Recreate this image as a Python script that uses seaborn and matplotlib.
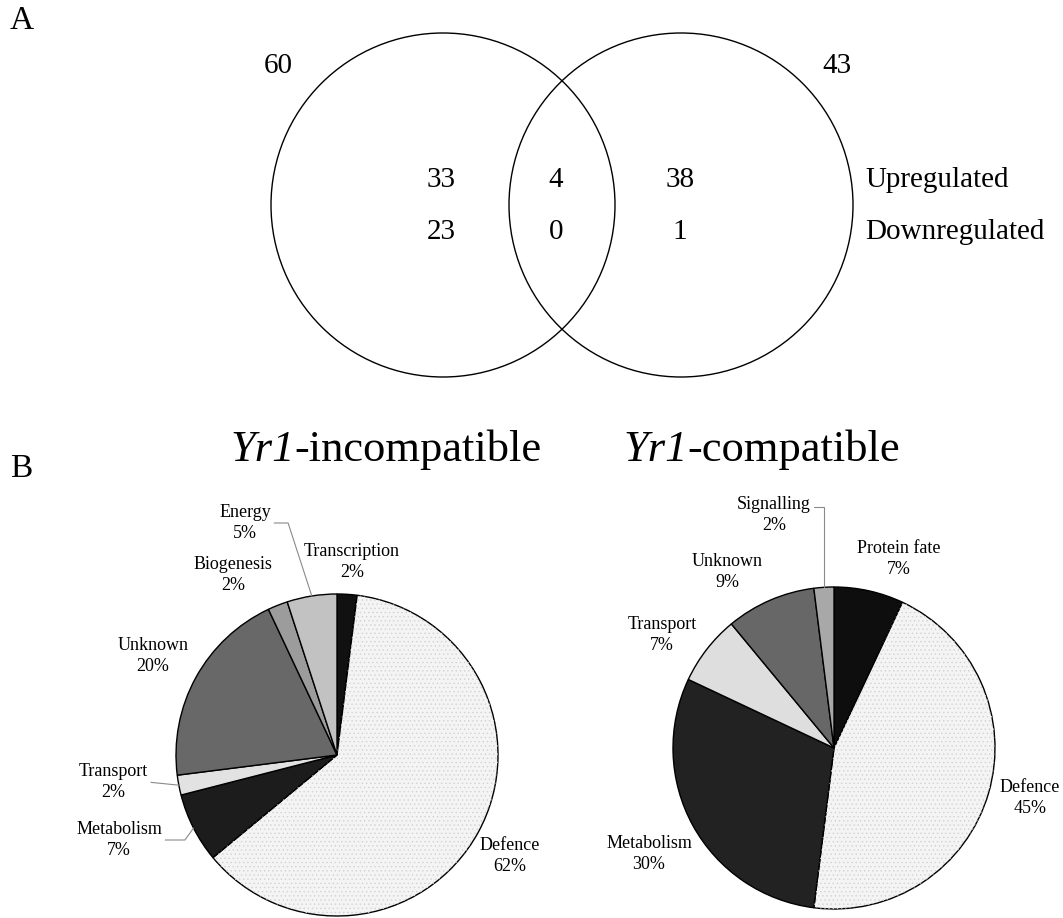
import numpy as np
import seaborn as sns
import matplotlib
matplotlib.use("Agg")
import matplotlib.pyplot as plt
from matplotlib.patches import Circle, Wedge

# data
venn_totals = [60, 43]
venn_up = [33, 4, 38]
venn_down = [23, 0, 1]
row_labels = ["Upregulated", "Downregulated"]

incomp_cats = ["Transcription", "Defence", "Metabolism", "Transport", "Unknown", "Biogenesis", "Energy"]
incomp_pct = [2, 62, 7, 2, 20, 2, 5]
comp_cats = ["Protein fate", "Defence", "Metabolism", "Transport", "Unknown", "Signalling"]
comp_pct = [7, 45, 30, 7, 9, 2]

# styling
sns.set_theme(style="white")
plt.rcParams["font.family"] = ["Liberation Serif", "DejaVu Serif"]
plt.rcParams["text.color"] = "black"
plt.rcParams["hatch.linewidth"] = 0.5

incomp_colors = {"Transcription": "#111111", "Defence": "#f4f4f4", "Metabolism": "#1c1c1c",
                 "Transport": "#e2e2e2", "Unknown": "#686868", "Biogenesis": "#9c9c9c",
                 "Energy": "#c2c2c2"}
comp_colors = {"Protein fate": "#0e0e0e", "Defence": "#f4f4f4", "Metabolism": "#222222",
               "Transport": "#dedede", "Unknown": "#676767", "Signalling": "#a8a8a8"}

# label positions in pie radius units
incomp_pos = {"Transcription": (0.093, 1.199), "Defence": (1.075, -0.627),
              "Metabolism": (-1.354, -0.528), "Transport": (-1.391, -0.168),
              "Unknown": (-1.143, 0.615), "Biogenesis": (-0.646, 1.118),
              "Energy": (-0.571, 1.441)}
comp_pos = {"Protein fate": (0.404, 1.174), "Defence": (1.217, -0.311),
            "Metabolism": (-1.149, -0.658), "Transport": (-1.068, 0.702),
            "Unknown": (-0.665, 1.093), "Signalling": (-0.373, 1.447)}
# leader lines: (relpos, connectionstyle)
incomp_leaders = {"Energy": ((1, 0.5), "angle,angleA=0,angleB=108,rad=0"),
                  "Transport": ((1, 0.5), "arc3"),
                  "Metabolism": ((1, 0.5), "angle,angleA=0,angleB=54,rad=0")}
comp_leaders = {"Signalling": ((1, 0.72), "angle,angleA=0,angleB=90,rad=0")}

W, H = 1063, 918
fig = plt.figure(figsize=(W / 100, H / 100), dpi=100)


def pie_axes(cx, cy, r, half=1.7):
    s = half * r
    ax = fig.add_axes([(cx - s) / W, (H - (cy + s)) / H, 2 * s / W, 2 * s / H])
    ax.set_facecolor("none")
    return ax


def draw_pie(ax, cats, pct, colors, pos, leaders, half=1.7):
    wedges, _ = ax.pie(pct, colors=[colors[c] for c in cats], startangle=90,
                       counterclock=False, radius=1,
                       wedgeprops=dict(edgecolor="black", linewidth=1.0))
    for w, c, p in zip(wedges, cats, pct):
        if c == "Defence":
            # fine stipple like the printed figure
            ax.add_patch(Wedge((0, 0), 1, w.theta1, w.theta2, facecolor="none",
                               edgecolor="#d2d2d2", hatch="....", linewidth=0))
        label = f"{c}\n{p}%"
        if c in leaders:
            mid = np.deg2rad((w.theta1 + w.theta2) / 2)
            relpos, cs = leaders[c]
            ax.annotate(label, xy=(np.cos(mid), np.sin(mid)), xytext=pos[c],
                        ha="center", va="center", fontsize=13, linespacing=1.3,
                        arrowprops=dict(arrowstyle="-", color="#8a8a8a", lw=0.8,
                                        shrinkA=0, shrinkB=0, relpos=relpos,
                                        connectionstyle=cs))
        else:
            ax.text(pos[c][0], pos[c][1], label, ha="center", va="center",
                    fontsize=13, linespacing=1.3)
    ax.set_xlim(-half, half)
    ax.set_ylim(-half, half)
    ax.axis("off")


ax1 = pie_axes(337, 755, 161)
draw_pie(ax1, incomp_cats, incomp_pct, incomp_colors, incomp_pos, incomp_leaders)
ax2 = pie_axes(834, 748, 161)
draw_pie(ax2, comp_cats, comp_pct, comp_colors, comp_pos, comp_leaders)

# overlay in pixel coordinates: Venn diagram, titles, panel letters
ov = fig.add_axes([0, 0, 1, 1])
ov.set_facecolor("none")
ov.set_xlim(0, W)
ov.set_ylim(H, 0)
ov.axis("off")

for cx in [443, 681]:
    ov.add_patch(Circle((cx, 205), 172, fill=False, edgecolor="black", linewidth=1.0))

ov.text(278, 66, str(venn_totals[0]), ha="center", va="center", fontsize=21)
ov.text(837, 66, str(venn_totals[1]), ha="center", va="center", fontsize=21)
for x, u, d in zip([441, 556, 680], venn_up, venn_down):
    ov.text(x, 180, str(u), ha="center", va="center", fontsize=21)
    ov.text(x, 232, str(d), ha="center", va="center", fontsize=21)
for y, lab in zip([180, 232], row_labels):
    ov.text(865, y, lab, ha="left", va="center", fontsize=21)

ov.text(10, 21, "A", ha="left", va="center", fontsize=24)
ov.text(10, 469, "B", ha="left", va="center", fontsize=24)

# titles: italic gene name followed by upright text on the same baseline
for x0, rest in [(230, "-incompatible"), (623, "-compatible")]:
    t = ov.text(x0, 470, "Yr1", style="italic", ha="left", va="bottom", fontsize=32)
    ov.annotate(rest, xy=(1, 0), xycoords=t, ha="left", va="bottom", fontsize=32)

fig.savefig("out.png", dpi=100, facecolor="white")
